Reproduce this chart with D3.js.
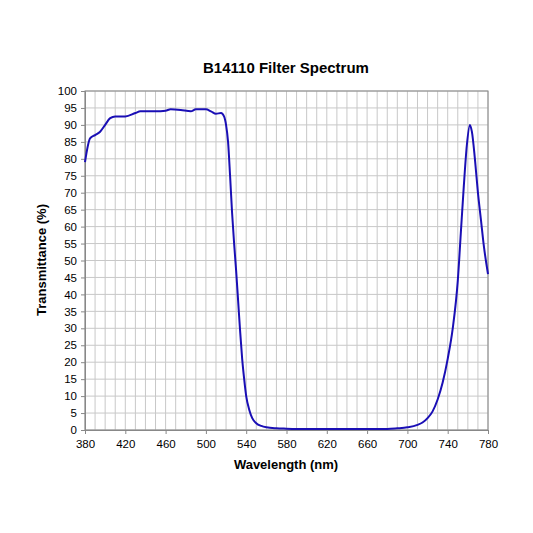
<!DOCTYPE html><html><head><script src="https://d3js.org/d3.v7.min.js"></script>
<style>body{margin:0;background:#fff}</style></head><body><svg id="c" width="533" height="533"></svg>
<script>
const wavelengths=[380,385,390,395,400,405,410,420,430,435,450,460,465,475,485,490,500,505,510,515,518,520,522,524,526,528,530,532,534,536,538,540,543,546,550,555,560,570,580,600,680,690,700,710,715,720,725,730,735,740,745,750,753,756,759,762,764,767,770,773,776,780];
const transmittance=[79,86,87,88,90,92,92.5,92.5,93.5,94,94,94.2,94.6,94.4,94,94.6,94.6,94,93.3,93.5,92.5,90,85,75,64,55,47,38,29,21,15,10,6,3.5,2,1.2,0.8,0.5,0.4,0.3,0.3,0.5,0.8,1.5,2.2,3.5,5.5,9,14,21,30,44,58,72,84,90,88,80,70,62,54,46];
const xTicks=d3.range(380,781,40), yTicks=d3.range(0,101,5);
const svg=d3.select("#c"),L=85,R=488,T=91,B=430;
const x=d3.scaleLinear().domain([380,780]).range([L,R]);
const y=d3.scaleLinear().domain([0,100]).range([B,T]);
const g=svg.append("g");
g.selectAll("line.v").data(d3.range(380,781,10)).join("line").attr("x1",x).attr("x2",x).attr("y1",T).attr("y2",B).attr("stroke","#c8c8c8").attr("stroke-width",1);
g.selectAll("line.h").data(yTicks).join("line").attr("y1",y).attr("y2",y).attr("x1",L).attr("x2",R).attr("stroke","#c8c8c8").attr("stroke-width",1);
svg.append("rect").attr("x",L).attr("y",T).attr("width",R-L).attr("height",B-T).attr("fill","none").attr("stroke","#888");
const xa=svg.append("g").attr("transform",`translate(0,${B})`).call(d3.axisBottom(x).tickValues(xTicks).tickSize(4).tickPadding(6));
const ya=svg.append("g").attr("transform",`translate(${L},0)`).call(d3.axisLeft(y).tickValues(yTicks).tickSize(4).tickPadding(4));
[xa,ya].forEach(a=>{a.select(".domain").attr("stroke","#888");a.selectAll("line").attr("stroke","#888");a.selectAll("text").attr("font-family","Liberation Sans, Arial").attr("font-size",11.5).attr("fill","#000");});
svg.append("path").datum(wavelengths.map((w,i)=>[w,transmittance[i]])).attr("d",d3.line().x(d=>x(d[0])).y(d=>y(d[1])).curve(d3.curveMonotoneX)).attr("fill","none").attr("stroke","#1a0fb5").attr("stroke-width",2);
svg.append("text").attr("x",286).attr("y",73).attr("text-anchor","middle").attr("font-family","Liberation Sans, Arial").attr("font-weight","bold").attr("font-size",15).text("B14110 Filter  Spectrum");
svg.append("text").attr("x",286).attr("y",469).attr("text-anchor","middle").attr("font-family","Liberation Sans, Arial").attr("font-weight","bold").attr("font-size",13).text("Wavelength (nm)");
svg.append("text").attr("transform","translate(46,260) rotate(-90)").attr("text-anchor","middle").attr("font-family","Liberation Sans, Arial").attr("font-weight","bold").attr("font-size",13).text("Transmittance (%)");
</script></body></html>
